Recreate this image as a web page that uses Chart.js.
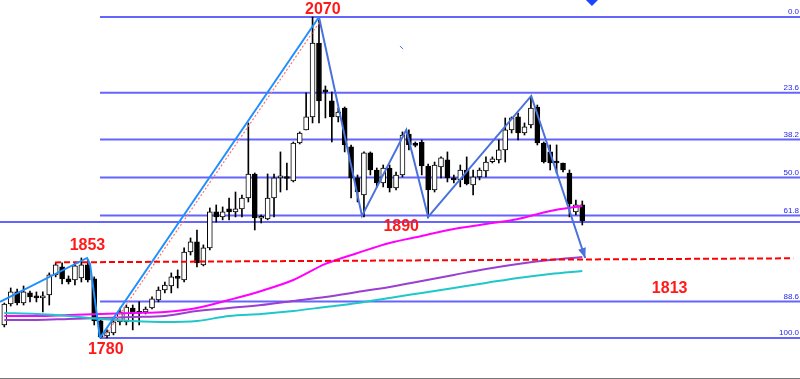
<!DOCTYPE html>
<html>
<head>
<meta charset="utf-8">
<script src="https://cdn.jsdelivr.net/npm/chart.js@4/dist/chart.umd.min.js"></script>
<style>
  html, body { margin: 0; padding: 0; background: #fff; }
  #wrap { width: 800px; height: 379px; }
</style>
</head>
<body>
<div id="wrap"><canvas id="chart" width="800" height="379"></canvas></div>
<script>
// Candles, one entry per bar (price)
const opens = [
  1791.8, 1810.7, 1821.6, 1811.6, 1820.7, 1818.0, 1816.2, 1818.9, 1837.0, 1844.2,
  1833.4, 1832.4, 1834.3, 1846.0, 1833.4, 1795.4, 1781.9, 1784.6, 1794.5, 1794.5,
  1807.1, 1803.4, 1803.5, 1807.1, 1814.4, 1823.4, 1827.0, 1835.2, 1832.4, 1857.7,
  1866.8, 1846.0, 1861.4, 1893.9, 1889.4, 1896.6, 1893.9, 1896.6, 1906.5, 1928.2,
  1888.2, 1887.6, 1906.5, 1924.6, 1925.5, 1921.9, 1956.2, 1968.0, 1979.7, 2046.5,
  2003.2, 1994.2, 1979.7, 1987.8, 1952.6, 1924.6, 1909.2, 1947.2, 1931.8, 1920.1,
  1933.6, 1915.6, 1927.3, 1964.3, 1956.2, 1957.1, 1935.4, 1913.8, 1934.5, 1940.9,
  1924.6, 1922.8, 1931.8, 1918.3, 1925.5, 1930.9, 1939.3, 1940.9, 1949.9, 1968.0,
  1979.7, 1965.2, 1972.5, 1988.7, 1956.2, 1948.1, 1939.0, 1938.1, 1929.1, 1893.9, 1900.2
];
const highs = [
  1811.6, 1825.2, 1824.3, 1827.0, 1822.5, 1821.6, 1821.6, 1838.8, 1847.8, 1847.8,
  1836.1, 1847.8, 1852.3, 1850.5, 1835.2, 1796.3, 1787.3, 1796.3, 1807.1, 1809.8,
  1809.8, 1812.6, 1808.0, 1817.1, 1826.1, 1830.6, 1838.8, 1841.5, 1861.4, 1870.4,
  1877.6, 1864.1, 1897.5, 1900.2, 1898.4, 1906.5, 1911.9, 1909.2, 1974.3, 1929.1,
  1891.2, 1928.2, 1928.2, 1948.1, 1938.1, 1957.1, 1966.2, 2001.4, 2070.0, 2067.3,
  2007.7, 2002.3, 1987.8, 1988.7, 1954.4, 1927.3, 1948.1, 1948.1, 1933.6, 1936.3,
  1936.3, 1930.0, 1966.2, 1968.0, 1957.1, 1958.9, 1937.2, 1939.0, 1943.6, 1948.1,
  1927.3, 1936.3, 1943.6, 1931.8, 1933.6, 1943.6, 1943.6, 1958.9, 1978.8, 1979.7,
  1983.3, 1974.3, 1996.9, 1990.5, 1957.1, 1954.4, 1954.4, 1938.1, 1931.8, 1904.7, 1903.8
];
const lows = [
  1790.0, 1808.9, 1809.8, 1809.8, 1812.6, 1812.6, 1803.5, 1809.8, 1835.2, 1828.8,
  1828.8, 1827.9, 1830.6, 1830.6, 1791.8, 1780.0, 1780.0, 1782.8, 1791.8, 1791.8,
  1787.3, 1791.8, 1801.7, 1806.2, 1812.6, 1820.7, 1820.7, 1825.2, 1830.6, 1855.0,
  1844.2, 1845.1, 1859.6, 1884.8, 1886.7, 1886.7, 1889.4, 1889.4, 1902.9, 1877.6,
  1883.9, 1886.7, 1889.4, 1911.9, 1913.8, 1921.0, 1955.3, 1968.0, 1974.3, 1974.3,
  1978.8, 1957.1, 1975.2, 1948.1, 1906.5, 1902.9, 1889.4, 1927.3, 1916.5, 1916.5,
  1911.9, 1913.8, 1925.5, 1949.9, 1952.6, 1927.3, 1888.5, 1911.9, 1924.6, 1921.0,
  1920.1, 1916.5, 1918.3, 1909.2, 1922.8, 1925.5, 1938.1, 1938.1, 1939.0, 1965.2,
  1958.9, 1963.4, 1969.8, 1954.4, 1938.1, 1931.8, 1929.1, 1930.0, 1889.4, 1891.2, 1882.1
];
const closes = [
  1810.7, 1821.6, 1811.6, 1821.6, 1817.1, 1816.2, 1818.0, 1837.0, 1846.0, 1833.4,
  1830.6, 1845.1, 1846.0, 1832.4, 1795.4, 1781.0, 1785.5, 1794.5, 1803.5, 1808.0,
  1801.7, 1802.2, 1806.2, 1815.3, 1823.4, 1827.9, 1835.2, 1833.8, 1857.7, 1866.8,
  1847.8, 1861.4, 1893.9, 1889.4, 1893.9, 1893.9, 1896.6, 1906.5, 1928.2, 1888.5,
  1889.8, 1906.5, 1924.6, 1925.5, 1924.1, 1956.2, 1965.2, 1979.7, 2046.5, 1994.2,
  2002.3, 1979.7, 1984.2, 1954.4, 1924.6, 1911.9, 1947.2, 1931.8, 1920.1, 1933.6,
  1915.6, 1927.3, 1963.4, 1954.4, 1954.0, 1935.4, 1913.8, 1936.3, 1942.7, 1924.6,
  1922.8, 1931.8, 1919.2, 1925.5, 1931.8, 1939.0, 1941.8, 1949.9, 1968.0, 1978.8,
  1965.2, 1970.7, 1987.8, 1956.2, 1939.0, 1938.1, 1938.1, 1931.8, 1901.1, 1900.2, 1885.7
];

// Moving averages, read every 5th bar
const maIdx = [0, 5, 10, 15, 20, 25, 30, 35, 40, 45, 50, 55, 60, 65, 70, 75, 80, 85, 90];
const maMagenta = [1799.9, 1799.9, 1800.8, 1801.7, 1802.6, 1803.5, 1807.1, 1814.4, 1822.5, 1832.4,
  1846.9, 1856.8, 1865.9, 1872.2, 1878.5, 1883.0, 1887.6, 1894.8, 1899.3];
const maPurple = [1796.3, 1796.3, 1797.2, 1798.1, 1799.0, 1799.9, 1804.4, 1807.1, 1809.8, 1813.5,
  1817.1, 1821.6, 1826.1, 1831.5, 1837.0, 1842.4, 1846.9, 1850.5, 1853.2];
const maCyan = [1802.6, 1801.7, 1799.9, 1797.2, 1795.4, 1794.5, 1795.4, 1799.9, 1801.7, 1804.4,
  1808.0, 1811.6, 1816.2, 1820.7, 1825.2, 1829.7, 1834.3, 1837.9, 1840.6];

// Fibonacci retracement of the 1780 -> 2070 swing
const fibHigh = 2070;
const fibLow = 1780;
const fibLevels = [0.0, 23.6, 38.2, 50.0, 61.8, 88.6, 100.0];
const fibStartIdx = 14.9;
const supportPrice = 1884.8;

// Drawn lines (bar index, price)
const swingIdx = [-0.67, 12.88, 13.35, 14.9];
const swingPrice = [1812.6, 1852.3, 1846.9, 1780.0];
const rallyIdx = [14.9, 49.0];
const rallyPrice = [1780.0, 2070.0];
const rallyDotIdx = [15.45, 49.1];
const rallyDotPrice = [1780.0, 2065.5];
const zigIdx = [49.0, 55.7, 62.6, 66.0, 82.05, 90.45];
const zigPrice = [2070.0, 1890.3, 1968.0, 1889.4, 1998.7, 1852.3];
const neckIdx = [7.9, 122.85];
const neckPrice = [1848.3, 1852.0];
const tickIdx = [61.6, 62.1];
const tickPrice = [2043.8, 2041.1];

const priceNotes = [
  { text: '2070', idx: 49.6, price: 2076.5 },
  { text: '1853', idx: 12.95, price: 1863.5 },
  { text: '1780', idx: 15.8, price: 1769.5 },
  { text: '1890', idx: 61.8, price: 1881.0 },
  { text: '1813', idx: 103.6, price: 1824.5 }
];

const xMin = -0.67, xMax = 123.9;
const yMin = 1742.96, yMax = 2085.36;

const fibPrice = (lv) => fibHigh - lv / 100 * (fibHigh - fibLow);
const pts = (xs, ys) => xs.map((x, i) => ({ x: x, y: ys[i] }));
const lineSet = (data, color, width, order, extra) => Object.assign({
  type: 'line', data: data, borderColor: color, borderWidth: width,
  pointRadius: 0, fill: false, order: order, tension: 0
}, extra || {});

const fibColor = '#6464ff';
const datasets = [];

fibLevels.forEach((lv) => {
  datasets.push(lineSet([{ x: fibStartIdx, y: fibPrice(lv) }, { x: xMax, y: fibPrice(lv) }], fibColor, 2, 6));
});
datasets.push(lineSet([{ x: xMin, y: supportPrice }, { x: xMax, y: supportPrice }], fibColor, 2, 6));

// wicks then bodies
datasets.push({
  type: 'bar', order: 5, grouped: false, barThickness: 1,
  data: lows.map((l, i) => ({ x: i, y: [l, highs[i]] })),
  backgroundColor: '#000', borderWidth: 0
});
datasets.push({
  type: 'bar', order: 4, grouped: false, barThickness: 5, minBarLength: 2,
  data: opens.map((o, i) => ({ x: i, y: [o, closes[i]] })),
  backgroundColor: opens.map((o, i) => closes[i] >= o ? '#ffffff' : '#000000'),
  borderColor: '#000', borderWidth: 1, borderSkipped: false
});

const maOpts = { tension: 0.4, cubicInterpolationMode: 'monotone' };
datasets.push(lineSet(pts(maIdx, maCyan), '#1fc8c8', 2, 3, maOpts));
datasets.push(lineSet(pts(maIdx, maPurple), '#9a3fd0', 2, 3, maOpts));
datasets.push(lineSet(pts(maIdx, maMagenta), '#ff00ff', 2, 3, maOpts));

datasets.push(lineSet(pts(neckIdx, neckPrice), '#ff0000', 2, 2, { borderDash: [6, 3] }));
datasets.push(lineSet(pts(rallyDotIdx, rallyDotPrice), '#ff7070', 1.2, 2, { borderDash: [2, 2] }));
datasets.push(lineSet(pts(swingIdx, swingPrice), '#1e8fff', 2, 1));
datasets.push(lineSet(pts(rallyIdx, rallyPrice), '#1e8fff', 2, 1));
datasets.push(lineSet(pts(zigIdx, zigPrice), '#4a72dc', 2, 1));
datasets.push(lineSet(pts(tickIdx, tickPrice), '#4a72dc', 1, 1));

// marker diamond at the top edge
datasets.push({
  type: 'scatter', order: 0, clip: false,
  data: [{ x: 91.5, y: yMax }],
  pointStyle: 'rectRot', pointRadius: 6, backgroundColor: '#1a44ff', borderWidth: 0
});

const overlay = {
  id: 'overlay',
  afterDatasetsDraw(chart) {
    const ctx = chart.ctx;
    const xs = chart.scales.x, ys = chart.scales.y;
    ctx.save();

    // fib labels
    ctx.font = '8px "Liberation Sans", Arial, sans-serif';
    ctx.fillStyle = '#2424ee';
    ctx.textAlign = 'right';
    ctx.textBaseline = 'bottom';
    fibLevels.forEach((lv) => {
      ctx.fillText(lv.toFixed(1), 799, ys.getPixelForValue(fibPrice(lv)) - 1);
    });

    // arrow head at end of the zigzag
    const n = zigIdx.length;
    const x1 = xs.getPixelForValue(zigIdx[n - 1]), y1 = ys.getPixelForValue(zigPrice[n - 1]);
    const x0 = xs.getPixelForValue(zigIdx[n - 2]), y0 = ys.getPixelForValue(zigPrice[n - 2]);
    const a = Math.atan2(y1 - y0, x1 - x0);
    ctx.fillStyle = '#4a72dc';
    ctx.beginPath();
    ctx.moveTo(x1, y1);
    ctx.lineTo(x1 - 10 * Math.cos(a) + 4 * Math.sin(a), y1 - 10 * Math.sin(a) - 4 * Math.cos(a));
    ctx.lineTo(x1 - 10 * Math.cos(a) - 4 * Math.sin(a), y1 - 10 * Math.sin(a) + 4 * Math.cos(a));
    ctx.closePath();
    ctx.fill();

    // red price notes
    ctx.font = 'bold 16px "Liberation Sans", Arial, sans-serif';
    ctx.fillStyle = '#ff1a1a';
    ctx.textAlign = 'center';
    ctx.textBaseline = 'middle';
    priceNotes.forEach((p) => {
      ctx.fillText(p.text, xs.getPixelForValue(p.idx), ys.getPixelForValue(p.price));
    });

    // bottom frame edge
    ctx.fillStyle = '#777';
    ctx.fillRect(0, chart.height - 1, chart.width, 1);
    ctx.restore();
  }
};

new Chart(document.getElementById('chart').getContext('2d'), {
  type: 'bar',
  data: { datasets: datasets },
  options: {
    responsive: false,
    devicePixelRatio: 1,
    animation: false,
    layout: { padding: 0, autoPadding: false },
    plugins: { legend: { display: false }, tooltip: { enabled: false } },
    scales: {
      x: { type: 'linear', min: xMin, max: xMax, offset: false, display: false },
      y: { type: 'linear', min: yMin, max: yMax, display: false }
    }
  },
  plugins: [overlay]
});
</script>
</body>
</html>
